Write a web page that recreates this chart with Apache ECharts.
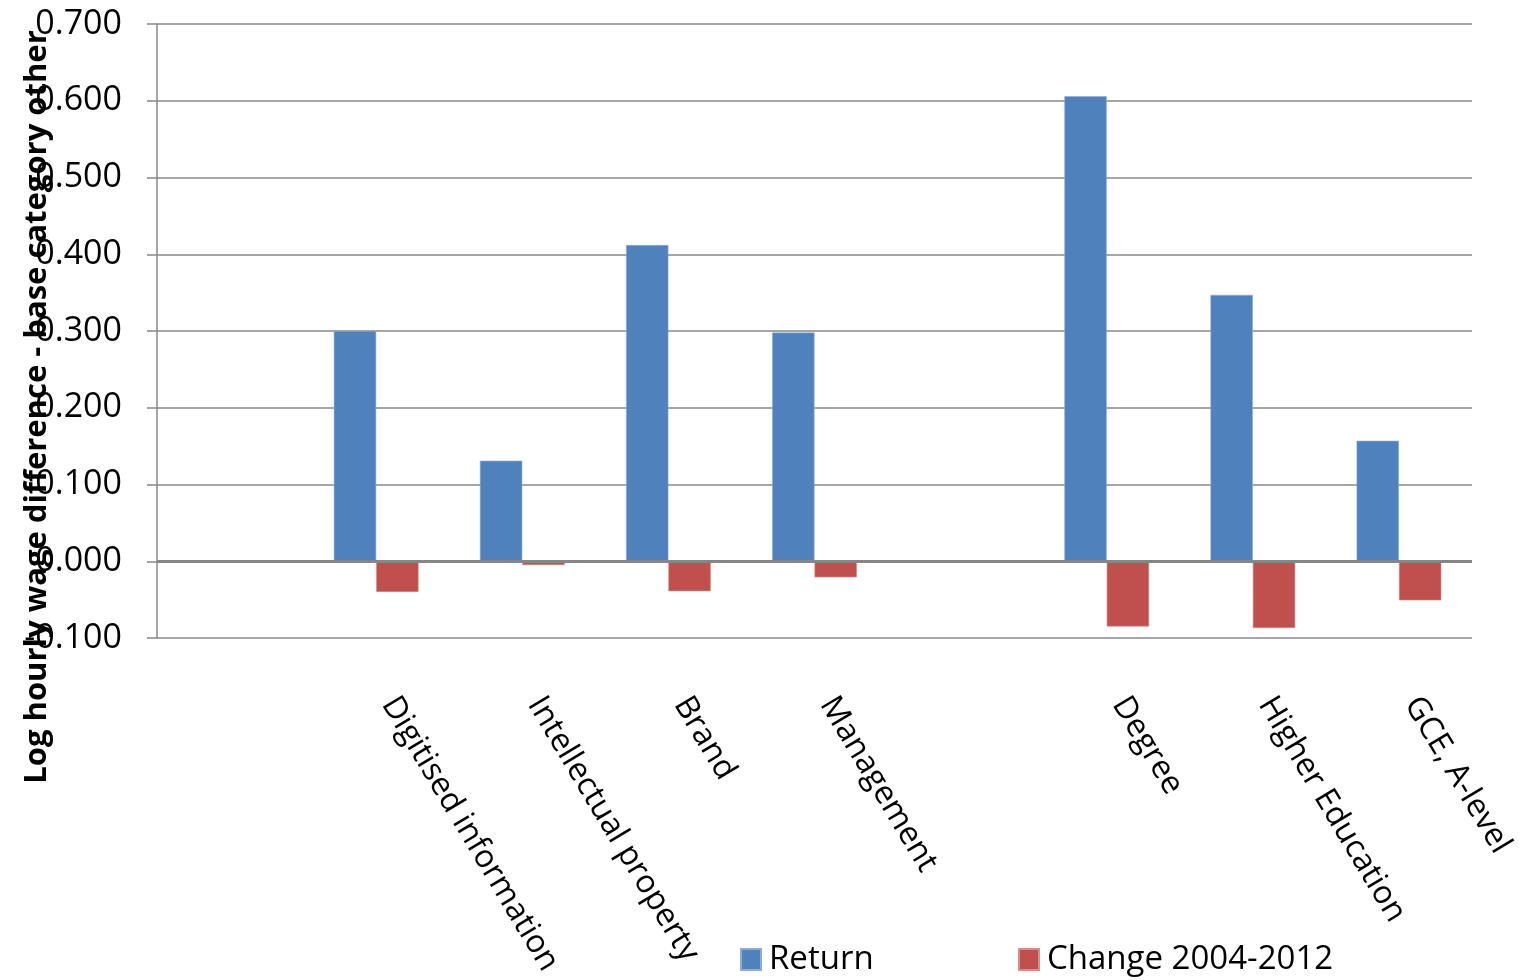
<!DOCTYPE html>
<html>
<head>
<meta charset="utf-8">
<title>Log hourly wage difference</title>
<script src="https://cdn.jsdelivr.net/npm/echarts@6/dist/echarts.min.js"></script>
<style>
  html, body { margin: 0; padding: 0; background: #fff; }
  #chart { width: 1528px; height: 980px; }
</style>
</head>
<body>
<div id="chart"></div>
<script>
// Categories (two empty slots separate the asset group from the education group)
const categories = [' ', 'Digitised information', 'Intellectual property', 'Brand', 'Management', '  ', 'Degree', 'Higher Education', 'GCE, A-level'];
const returnValues = [null, 0.300, 0.131, 0.412, 0.298, null, 0.606, 0.347, 0.157];
const changeValues = [null, -0.040, -0.005, -0.039, -0.021, null, -0.085, -0.087, -0.051];
const seriesNames = ['Return', 'Change 2004-2012'];
const yTitle = 'Log hourly wage difference - base category other';

const FONT = '"Open Sans", "Noto Sans", sans-serif';
const GRID_COLOR = '#888888';

const chart = echarts.init(document.getElementById('chart'), null, { renderer: 'canvas' });

const legendBase = {
  top: 943,
  padding: 0,
  itemWidth: 20,
  itemHeight: 21,
  icon: 'rect',
  textStyle: { fontFamily: FONT, fontSize: 33, color: '#000', padding: [0, 0, 0, 3] }
};

chart.setOption({
  animation: false,
  backgroundColor: '#ffffff',
  grid: { left: 157, right: 56, top: 24, bottom: 342, containLabel: false },
  legend: [
    Object.assign({}, legendBase, { data: [seriesNames[0]], left: 740 }),
    Object.assign({}, legendBase, { data: [seriesNames[1]], left: 1018 })
  ],
  xAxis: {
    type: 'category',
    data: categories,
    position: 'bottom',
    axisLine: { show: false, onZero: false },
    axisTick: { show: false },
    axisLabel: {
      interval: 0,
      rotate: -59,
      margin: 40,
      padding: [0, 0, 0, 25],
      fontFamily: FONT,
      fontSize: 32,
      color: '#000'
    },
    splitLine: { show: false }
  },
  yAxis: {
    type: 'value',
    min: -0.1,
    max: 0.7,
    interval: 0.1,
    axisLine: { show: true, lineStyle: { color: GRID_COLOR, width: 1.5 } },
    axisTick: { show: true, length: 10, lineStyle: { color: GRID_COLOR, width: 1.5 } },
    axisLabel: {
      margin: 35,
      fontFamily: FONT,
      fontSize: 34,
      color: '#000',
      formatter: v => v.toFixed(3)
    },
    splitLine: { show: true, lineStyle: { color: GRID_COLOR, width: 1.5 } }
  },
  series: [
    {
      name: seriesNames[0],
      type: 'bar',
      data: returnValues,
      barGap: '0%',
      barCategoryGap: '42%',
      itemStyle: { color: '#4F81BD', borderColor: '#8AAEDB', borderWidth: 0.6 },
      markLine: {
        silent: true,
        symbol: 'none',
        label: { show: false },
        lineStyle: { color: '#868686', width: 3, type: 'solid' },
        data: [{ yAxis: 0 }]
      },
      z: 2
    },
    {
      name: seriesNames[1],
      type: 'bar',
      data: changeValues,
      barGap: '0%',
      barCategoryGap: '42%',
      itemStyle: { color: '#C0504D', borderColor: '#DA8E8C', borderWidth: 0.6 },
      z: 2
    }
  ],
  graphic: [
    {
      type: 'text',
      x: 37,
      y: 407,
      rotation: Math.PI / 2,
      z: 100,
      style: {
        text: yTitle,
        fontFamily: FONT,
        fontWeight: 'bold',
        fontSize: 31,
        fill: '#000',
        align: 'center',
        verticalAlign: 'middle'
      }
    }
  ]
});
</script>
</body>
</html>
